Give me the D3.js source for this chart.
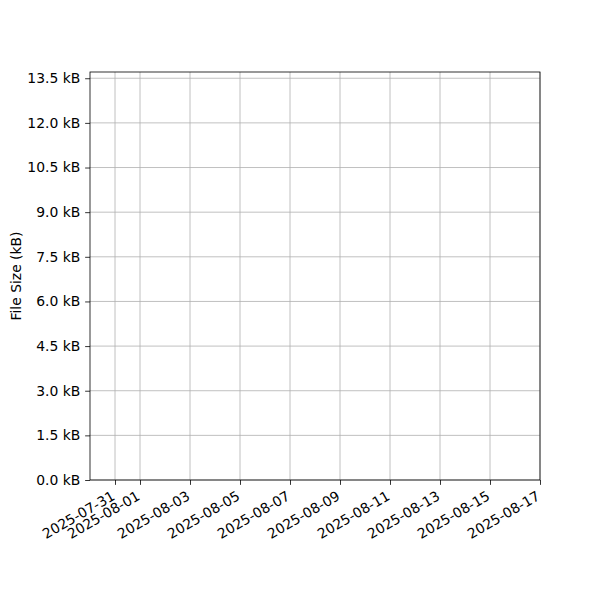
<!DOCTYPE html>
<html>
<head>
<meta charset="utf-8">
<script src="https://cdn.jsdelivr.net/npm/d3@7"></script>
<style>
  html, body { margin: 0; padding: 0; background: #fff; }
  svg { display: block; font-family: "DejaVu Sans", sans-serif; }
  .grid line { stroke: #b0b0b0; stroke-width: 0.8; }
  .tick-label { font-size: 13.9px; fill: #000; }
</style>
</head>
<body>
<div id="chart"></div>
<script>
// ── Data ───────────────────────────────────────────────────────────────────
const xDomain    = ["2025-07-30", "2025-08-17"];
const xTickDates = ["2025-07-31", "2025-08-01", "2025-08-03", "2025-08-05", "2025-08-07",
                    "2025-08-09", "2025-08-11", "2025-08-13", "2025-08-15", "2025-08-17"];
const yDomain    = [0, 13.71];
const yTicks     = [0, 1.5, 3.0, 4.5, 6.0, 7.5, 9.0, 10.5, 12.0, 13.5];
const fileSizes  = [];   // no points in the reference

// ── Dimensions ─────────────────────────────────────────────────────────────
const W = 600, H = 600;
const plot = { left: 90, right: 540, top: 72, bottom: 480 };
const TICK = 4.86, PAD = 4.86;

const parse = d3.utcParse("%Y-%m-%d");
const fmt   = d3.utcFormat("%Y-%m-%d");

const x = d3.scaleUtc()
  .domain(xDomain.map(parse))
  .range([plot.left, plot.right]);

const y = d3.scaleLinear()
  .domain(yDomain)
  .range([plot.bottom, plot.top]);

const svg = d3.select("#chart")
  .append("svg")
  .attr("width", W)
  .attr("height", H);

svg.append("rect").attr("width", W).attr("height", H).attr("fill", "#fff");

// ── Grid ───────────────────────────────────────────────────────────────────
const xTicks = xTickDates.map(parse);

svg.append("g")
  .attr("class", "grid")
  .selectAll("line")
  .data(xTicks)
  .join("line")
  .attr("x1", d => x(d)).attr("x2", d => x(d))
  .attr("y1", plot.top).attr("y2", plot.bottom);

svg.append("g")
  .attr("class", "grid")
  .selectAll("line")
  .data(yTicks)
  .join("line")
  .attr("x1", plot.left).attr("x2", plot.right)
  .attr("y1", d => y(d)).attr("y2", d => y(d));

// ── Series (empty) ─────────────────────────────────────────────────────────
svg.append("g")
  .selectAll("circle")
  .data(fileSizes)
  .join("circle")
  .attr("cx", d => x(parse(d.date)))
  .attr("cy", d => y(d.size))
  .attr("r", 3)
  .attr("fill", "#1f77b4");

// ── Axes ───────────────────────────────────────────────────────────────────
const xAxis = svg.append("g")
  .attr("transform", `translate(0,${plot.bottom})`)
  .call(d3.axisBottom(x).tickValues(xTicks).tickSize(TICK).tickFormat(fmt));

xAxis.select(".domain").remove();
xAxis.selectAll(".tick line").attr("stroke", "#000").attr("stroke-width", 0.8);
xAxis.selectAll(".tick text")
  .attr("class", "tick-label")
  .attr("text-anchor", "end")
  .attr("font-size", null)
  .attr("y", null).attr("dy", null)
  .attr("transform", `translate(0.5,${TICK + PAD + 9.1}) rotate(-30)`);

const yAxis = svg.append("g")
  .attr("transform", `translate(${plot.left},0)`)
  .call(d3.axisLeft(y).tickValues(yTicks).tickSize(TICK).tickPadding(PAD)
    .tickFormat(d => d3.format(".1f")(d) + " kB"));

yAxis.select(".domain").remove();
yAxis.selectAll(".tick line").attr("stroke", "#000").attr("stroke-width", 0.8);
yAxis.selectAll(".tick text")
  .attr("class", "tick-label")
  .attr("font-size", null)
  .attr("dy", "0.32em");

svg.selectAll(".tick-label").style("font-family", "DejaVu Sans");
xAxis.attr("font-family", null);
yAxis.attr("font-family", null);

// Frame
svg.append("rect")
  .attr("x", plot.left).attr("y", plot.top)
  .attr("width", plot.right - plot.left)
  .attr("height", plot.bottom - plot.top)
  .attr("fill", "none")
  .attr("stroke", "#000")
  .attr("stroke-width", 0.8);

// Y label
svg.append("text")
  .attr("transform", `translate(16,${(plot.top + plot.bottom) / 2}) rotate(-90)`)
  .attr("text-anchor", "middle")
  .attr("dy", "0.35em")
  .style("font-size", "13.9px")
  .text("File Size (kB)");
</script>
</body>
</html>
